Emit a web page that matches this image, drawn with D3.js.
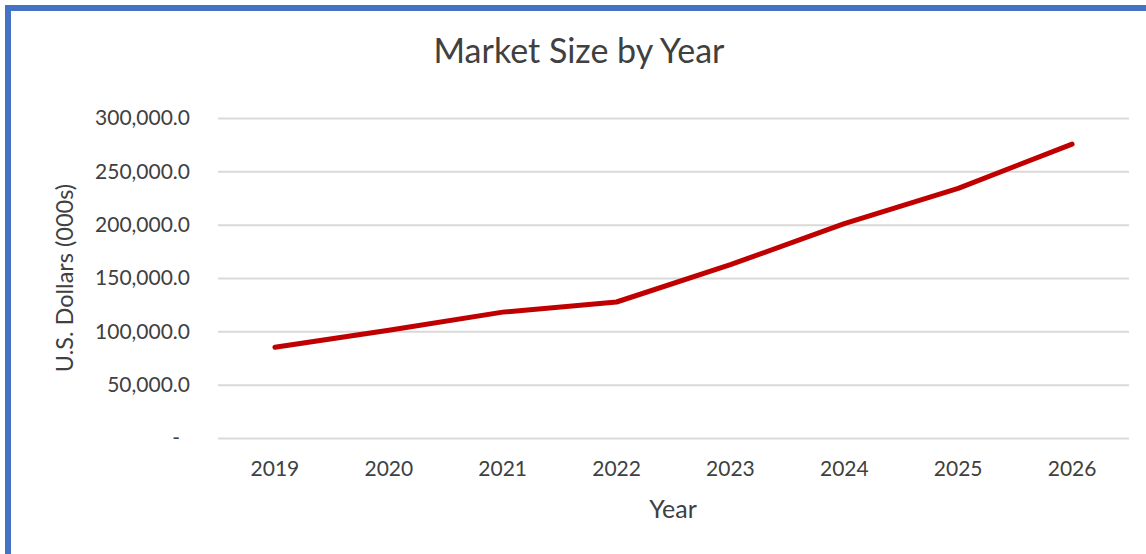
<!DOCTYPE html>
<html><head><meta charset="utf-8">
<script src="https://cdn.jsdelivr.net/npm/d3@7"></script>
<style>html,body{margin:0;padding:0;background:#fff;overflow:hidden}</style>
</head><body>
<svg id="c" width="1146" height="554"></svg>
<script>
const years = ["2019","2020","2021","2022","2023","2024","2025","2026"];
const marketSize = [85000, 101000, 118000, 127500, 162500, 201000, 234000, 275500];
const yTicks = [0, 50000, 100000, 150000, 200000, 250000, 300000];
const title = "Market Size by Year";
const yTitle = "U.S. Dollars (000s)";
const xTitle = "Year";

const svg = d3.select("#c");
const font = "Lato, 'Open Sans', sans-serif";
const textColor = "#404040";
const m = {left: 218, right: 1129, top: 118, bottom: 438};

svg.append("rect").attr("x",8).attr("y",8).attr("width",1200).attr("height",600)
  .attr("fill","#fff").attr("stroke","#4472C4").attr("stroke-width",6);

const x = d3.scaleBand().domain(years).range([m.left, m.right]);
const y = d3.scaleLinear().domain([0,300000]).range([m.bottom, m.top]);

const fmt = v => v === 0 ? "-" : d3.format(",.1f")(v);

const yAxis = svg.append("g").attr("transform",`translate(${m.left},0)`)
  .call(d3.axisLeft(y).tickValues(yTicks).tickFormat(fmt).tickSize(-(m.right-m.left)).tickPadding(28));
yAxis.select(".domain").remove();
yAxis.selectAll(".tick line").attr("stroke","#d9d9d9").attr("stroke-width",2);
yAxis.selectAll(".tick text").attr("fill",textColor).style("font-family",font).style("font-size","21px");
yAxis.selectAll(".tick").filter(d => d === 0).select("text").attr("dx", -10);

const xAxis = svg.append("g").attr("transform",`translate(0,${m.bottom})`)
  .call(d3.axisBottom(x).tickSize(0).tickPadding(23));
xAxis.select(".domain").remove();
xAxis.selectAll(".tick text").attr("fill",textColor).style("font-family",font).style("font-size","21px");

const line = d3.line().x((d,i)=>x(years[i])+x.bandwidth()/2).y(d=>y(d));
svg.append("path").datum(marketSize).attr("d",line).attr("fill","none")
  .attr("stroke","#C00000").attr("stroke-width",5).attr("stroke-linecap","round").attr("stroke-linejoin","round");

svg.append("text").attr("x",579).attr("y",63).attr("text-anchor","middle")
  .attr("fill",textColor).style("font-family",font).style("font-size","34px").text(title);
svg.append("text").attr("transform","translate(73,278) rotate(-90)").attr("text-anchor","middle")
  .attr("fill",textColor).style("font-family",font).style("font-size","23.5px").text(yTitle);
svg.append("text").attr("x",673).attr("y",518).attr("text-anchor","middle")
  .attr("fill",textColor).style("font-family",font).style("font-size","25px").text(xTitle);
</script>
</body></html>
